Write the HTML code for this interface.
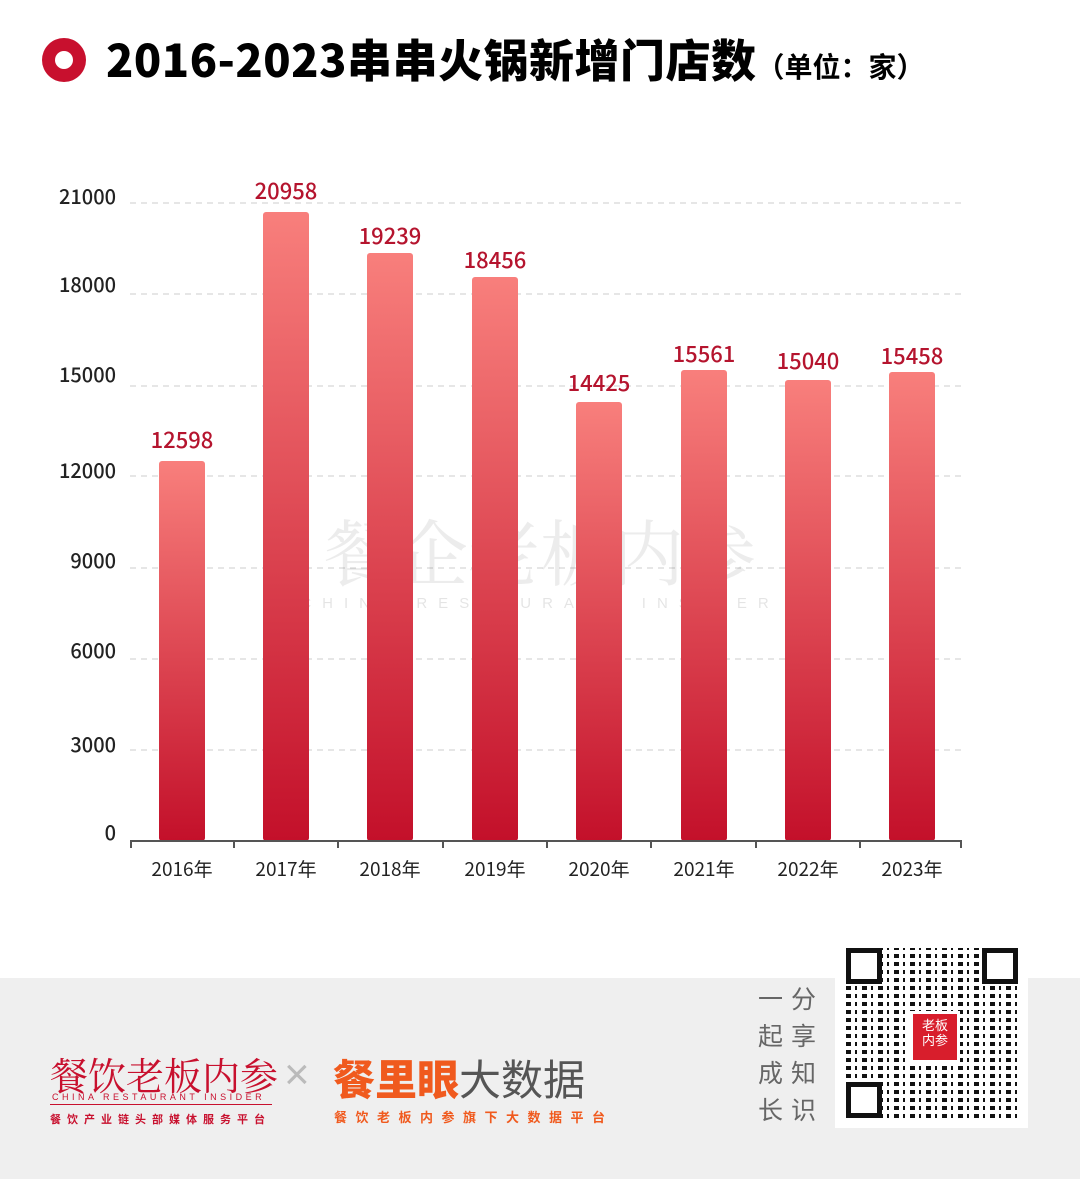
<!DOCTYPE html>
<html><head><meta charset="utf-8"><style>
body{margin:0;width:1080px;height:1179px;position:relative;background:#fff;font-family:"Liberation Sans","Noto Sans CJK SC",sans-serif;overflow:hidden}
.a{position:absolute}
</style></head><body>
<div class="a" style="left:42px;top:38px;width:44px;height:44px;border-radius:50%;background:#c8102e"></div>
<div class="a" style="left:55px;top:51px;width:18px;height:18px;border-radius:50%;background:#fff"></div>
<div class="a" style="left:106px;top:25px;font-size:45px;font-weight:900;color:#000;font-family:'Noto Sans CJK SC',sans-serif;white-space:nowrap;letter-spacing:0.5px">2016-2023串串火锅新增门店数<span style="font-size:28px;font-weight:700;letter-spacing:0">（单位：家）</span></div>
<svg class="a" style="left:0;top:0" width="1080" height="980">
<defs><linearGradient id="g" x1="0" y1="0" x2="0" y2="1"><stop offset="0" stop-color="#f87f7c"/><stop offset="1" stop-color="#c3102a"/></linearGradient></defs>
<g stroke="#ccc" stroke-dasharray="6,5" stroke-width="1">
<line x1="130" y1="203" x2="962" y2="203"/><line x1="130" y1="294" x2="962" y2="294"/><line x1="130" y1="386" x2="962" y2="386"/><line x1="130" y1="476" x2="962" y2="476"/><line x1="130" y1="568" x2="962" y2="568"/><line x1="130" y1="659" x2="962" y2="659"/><line x1="130" y1="750" x2="962" y2="750"/></g>
<g font-size="20" fill="#222" text-anchor="end" font-family="Noto Sans CJK SC,sans-serif" font-weight="500">
<text x="116" y="204">21000</text><text x="116" y="292">18000</text><text x="116" y="382">15000</text><text x="116" y="478">12000</text><text x="116" y="568">9000</text><text x="116" y="658">6000</text><text x="116" y="752">3000</text><text x="116" y="840">0</text></g>
<text x="540" y="580" font-size="72" fill="#000" opacity="0.07" text-anchor="middle" font-family="Noto Serif CJK SC,serif">餐企老板内参</text>
<text x="540" y="608" font-size="15" fill="#000" opacity="0.1" text-anchor="middle" letter-spacing="11">CHINA RESTAURANT INSIDER</text>
<g fill="url(#g)">
<rect x="159" y="461" width="46" height="380" rx="3"/><rect x="263" y="212" width="46" height="629" rx="3"/><rect x="367" y="253" width="46" height="588" rx="3"/><rect x="472" y="277" width="46" height="564" rx="3"/><rect x="576" y="402" width="46" height="439" rx="3"/><rect x="681" y="370" width="46" height="471" rx="3"/><rect x="785" y="380" width="46" height="461" rx="3"/><rect x="889" y="372" width="46" height="469" rx="3"/></g>
<g font-size="22" fill="#b5142e" text-anchor="middle" font-family="Noto Sans CJK SC,sans-serif" font-weight="500">
<text x="182" y="448">12598</text><text x="286" y="199">20958</text><text x="390" y="244">19239</text><text x="495" y="268">18456</text><text x="599" y="391">14425</text><text x="704" y="362">15561</text><text x="808" y="369">15040</text><text x="912" y="364">15458</text></g>
<line x1="130" y1="841" x2="962" y2="841" stroke="#555" stroke-width="2"/>
<g stroke="#555" stroke-width="2"><line x1="131" y1="841" x2="131" y2="848"/><line x1="234" y1="841" x2="234" y2="848"/><line x1="338" y1="841" x2="338" y2="848"/><line x1="443" y1="841" x2="443" y2="848"/><line x1="547" y1="841" x2="547" y2="848"/><line x1="651" y1="841" x2="651" y2="848"/><line x1="756" y1="841" x2="756" y2="848"/><line x1="860" y1="841" x2="860" y2="848"/><line x1="961" y1="841" x2="961" y2="848"/></g>
<g font-size="19" fill="#222" text-anchor="middle" font-family="Noto Sans CJK SC,sans-serif">
<text x="182" y="876">2016年</text><text x="286" y="876">2017年</text><text x="390" y="876">2018年</text><text x="495" y="876">2019年</text><text x="599" y="876">2020年</text><text x="704" y="876">2021年</text><text x="808" y="876">2022年</text><text x="912" y="876">2023年</text></g>
</svg>
<div class="a" style="left:0;top:978px;width:1080px;height:201px;background:#efefef"></div>
<div class="a" style="left:50px;top:1046px;font-size:38px;color:#c8102e;font-family:'Noto Serif CJK SC',serif;white-space:nowrap">餐饮老板内参</div>
<div class="a" style="left:52px;top:1092px;font-size:9px;color:#c8102e;letter-spacing:3.5px">CHINA RESTAURANT INSIDER</div>
<div class="a" style="left:50px;top:1104px;width:222px;height:1px;background:#c8102e"></div>
<div class="a" style="left:50px;top:1111px;font-size:11px;color:#c8102e;letter-spacing:6px;font-weight:700;white-space:nowrap">餐饮产业链头部媒体服务平台</div>
<div class="a" style="left:284px;top:1050px;font-size:44px;color:#bbb;font-weight:100">×</div>
<div class="a" style="left:333px;top:1047px;font-size:42px;color:#f05a1e;font-weight:900;white-space:nowrap">餐里眼<span style="color:#555;font-weight:400">大数据</span></div>
<div class="a" style="left:334px;top:1107px;font-size:13px;color:#f05a1e;letter-spacing:8.5px;font-weight:700;white-space:nowrap">餐饮老板内参旗下大数据平台</div>
<div class="a" style="left:758px;top:982px;font-size:25px;color:#666;line-height:37px;width:70px;letter-spacing:8px">一分<br>起享<br>成知<br>长识</div>
<div class="a" style="left:835px;top:940px;width:193px;height:188px;background:#fff"></div>
<div class="a" style="left:846px;top:948px;width:172px;height:170px;background:repeating-linear-gradient(90deg,#111 0 5px,#fff 5px 9px,#111 9px 11px,#fff 11px 16px),repeating-linear-gradient(0deg,#111 0 4px,#fff 4px 8px);background-blend-mode:lighten"></div>
<div class="a" style="left:846px;top:948px;width:36px;height:36px;border:5px solid #111;background:#fff;box-sizing:border-box"></div>
<div class="a" style="left:982px;top:948px;width:36px;height:36px;border:5px solid #111;background:#fff;box-sizing:border-box"></div>
<div class="a" style="left:846px;top:1082px;width:36px;height:36px;border:5px solid #111;background:#fff;box-sizing:border-box"></div>
<div class="a" style="left:910px;top:1011px;width:44px;height:42px;background:#d81e2c;border:3px solid #fff;color:#fff;font-size:13px;line-height:15px;text-align:center;padding-top:4px;box-sizing:content-box">老板<br>内参</div>
</body></html>
